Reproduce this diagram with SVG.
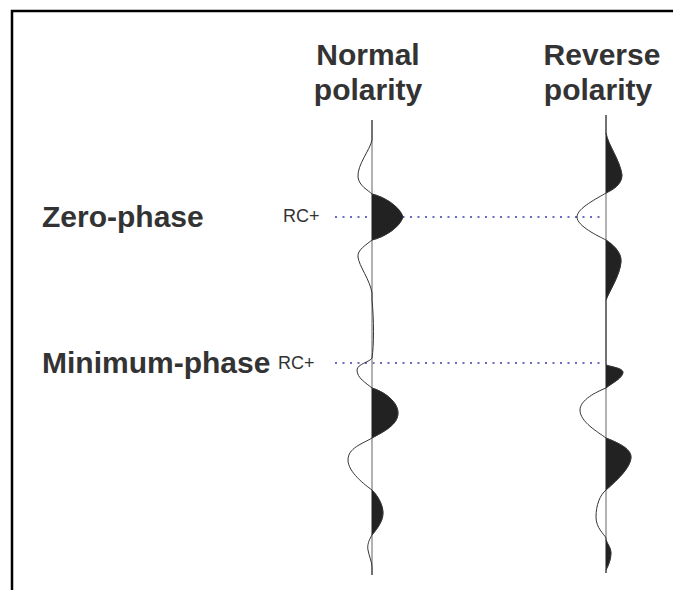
<svg xmlns="http://www.w3.org/2000/svg" width="673" height="590" viewBox="0 0 673 590">
<style>
.h{font-family:"Liberation Sans",Arial,sans-serif;font-weight:bold;font-size:30px;fill:#333;text-anchor:middle}
.lbl{font-family:"Liberation Sans",Arial,sans-serif;font-weight:bold;font-size:30px;fill:#333}
.rc{font-family:"Liberation Sans",Arial,sans-serif;font-size:18px;fill:#333}
.axis{stroke:#999;stroke-width:1.5;fill:none}
.trace{stroke:#333;stroke-width:1;fill:none}
.lobe{fill:#222;stroke:#222;stroke-width:0.5}
.dot{stroke:#6a6ac0;stroke-width:2;stroke-dasharray:2 5.5;fill:none}
</style>
<rect width="673" height="590" fill="#fff"/>
<path d="M12,590 V11 H675" fill="none" stroke="#000" stroke-width="2.5"/>
<g id="header-normal"><text class="h" x="368" y="65">Normal</text><text class="h" x="368" y="100">polarity</text></g>
<g id="header-reverse"><text class="h" x="602" y="65">Reverse</text><text class="h" x="598" y="100">polarity</text></g>
<g id="row-zero"><text class="lbl" x="42" y="227">Zero-phase</text><text class="rc" x="283" y="222">RC+</text></g>
<g id="row-min"><text class="lbl" x="42" y="373">Minimum-phase</text><text class="rc" x="278" y="369">RC+</text></g>
<g id="connectors">
<line class="dot" x1="335" y1="217" x2="602" y2="217"/>
<line class="dot" x1="335" y1="363" x2="602" y2="363"/>
</g>
<g id="normal-trace">
<line class="axis" x1="372" y1="120" x2="372" y2="575"/>
<path class="lobe" d="M372,194 C385,197 400,207 403,217 C400,227 385,237 372,240 Z"/>
<path class="lobe" d="M372,388 C385,392 398,402 398,413 C398,425 383,432 372,438 Z"/>
<path class="lobe" d="M372,490 C378,496 383,505 383,513 C383,522 376,530 372,535 Z"/>
<path class="trace" d="M372,120 L372,140 C370,150 357,165 358,177 C359,186 368,190 372,194 C385,197 400,207 403,217 C400,227 385,237 372,240 C366,245 357,250 358,257 C359,266 370,280 372,293 L372,300 C374,320 374,345 372,358 C370,362 357,364 357,370 C357,378 366,383 372,388 C385,392 398,402 398,413 C398,425 383,432 372,438 C362,444 348,448 348,460 C348,472 365,485 372,490 C378,496 383,505 383,513 C383,522 376,530 372,535 C369,540 367,545 368,550 C369,556 372,562 372,567 L372,575"/>
</g>
<g id="reverse-trace">
<line class="axis" x1="606" y1="115" x2="606" y2="573"/>
<path class="lobe" d="M606,133 C608,145 620,160 622,175 C622,185 612,190 606,193 Z"/>
<path class="lobe" d="M606,240 C612,244 622,252 621,262 C620,275 610,290 606,300 Z"/>
<path class="lobe" d="M606,365 C612,367 622,368 623,372 C623,378 612,383 606,388 Z"/>
<path class="lobe" d="M606,438 C616,442 631,448 631,457 C631,468 615,482 606,490 Z"/>
<path class="lobe" d="M606,540 C608,545 611,548 611,553 C611,560 608,566 606,570 Z"/>
<path class="trace" d="M606,115 L606,133 C608,145 620,160 622,175 C622,185 612,190 606,193 C598,198 577,208 577,217 C577,226 598,236 606,240 C612,244 622,252 621,262 C620,275 610,290 606,300 L606,365 C612,367 622,368 623,372 C623,378 612,383 606,388 C596,392 580,400 580,410 C580,422 598,432 606,438 C616,442 631,448 631,457 C631,468 615,482 606,490 C600,495 596,505 596,517 C596,528 604,534 606,538 L606,540 C608,545 611,548 611,553 C611,560 608,566 606,570 L606,573"/>
</g>
</svg>
